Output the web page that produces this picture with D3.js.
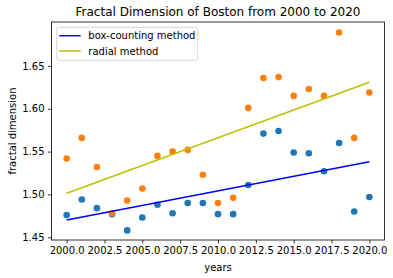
<!DOCTYPE html>
<html>
<head>
<meta charset="utf-8">
<script src="https://cdn.jsdelivr.net/npm/d3@7"></script>
<style>
  body { margin: 0; background: #fff; }
  svg { display: block; }
  text { font-family: "DejaVu Sans", sans-serif; fill: #000; }
</style>
</head>
<body>
<div id="chart"></div>
<script>
// values
const years = d3.range(2000, 2021)
const boxCounting = [1.476, 1.494, 1.484, 1.477, 1.458, 1.473, 1.488, 1.478, 1.490, 1.490,
                     1.477, 1.477, 1.511, 1.571, 1.574, 1.549, 1.548, 1.527, 1.560, 1.480, 1.497]
const radial = [1.542, 1.566, 1.532, 1.478, 1.493, 1.507, 1.545, 1.550, 1.552, 1.523,
                1.490, 1.496, 1.601, 1.636, 1.637, 1.615, 1.623, 1.615, 1.689, 1.566, 1.619]
// fitted lines, start and end values
const fitYears = [2000, 2020]
const boxFit = [1.4702, 1.5382]
const radialFit = [1.5014, 1.6309]
const xTicks = [2000, 2002.5, 2005, 2007.5, 2010, 2012.5, 2015, 2017.5, 2020]
const yTicks = [1.45, 1.50, 1.55, 1.60, 1.65]

const W = 393, H = 278
const margin = { top: 22, right: 8.5, bottom: 38, left: 51.5 }
const width = W - margin.left - margin.right
const height = H - margin.top - margin.bottom

const svg = d3.select("#chart").append("svg")
    .attr("width", W)
    .attr("height", H)

const g = svg.append("g")
    .attr("transform", "translate(" + margin.left + "," + margin.top + ")")

const x = d3.scaleLinear().domain([1999, 2021]).range([0, width])
const y = d3.scaleLinear().domain([1.4468, 1.7013]).range([height, 0])

// axes
const xAxis = g.append("g")
    .attr("transform", "translate(0," + height + ")")
    .call(d3.axisBottom(x).tickValues(xTicks).tickFormat(d3.format(".1f")).tickSizeOuter(0).tickSize(3.5).tickPadding(3.5))
const yAxis = g.append("g")
    .call(d3.axisLeft(y).tickValues(yTicks).tickFormat(d3.format(".2f")).tickSizeOuter(0).tickSize(3.5).tickPadding(3.5))

for (let a of [xAxis, yAxis]) {
    a.select(".domain").remove()
    a.selectAll("text").style("font-family", "DejaVu Sans").style("font-size", "10px").attr("fill", "#000")
    a.selectAll("line").attr("stroke", "#000").attr("stroke-width", 0.8)
}

// points
g.selectAll(".box")
    .data(years.map((yr, i) => [yr, boxCounting[i]]))
    .enter().append("circle")
    .attr("cx", d => x(d[0]))
    .attr("cy", d => y(d[1]))
    .attr("r", 3.3)
    .attr("fill", "#1f77b4")

g.selectAll(".rad")
    .data(years.map((yr, i) => [yr, radial[i]]))
    .enter().append("circle")
    .attr("cx", d => x(d[0]))
    .attr("cy", d => y(d[1]))
    .attr("r", 3.3)
    .attr("fill", "#ff7f0e")

const line = d3.line().x(d => x(d[0])).y(d => y(d[1]))

g.append("path")
    .attr("d", line(fitYears.map((yr, i) => [yr, boxFit[i]])))
    .attr("stroke", "#0000ff").attr("stroke-width", 1.5).attr("fill", "none")
g.append("path")
    .attr("d", line(fitYears.map((yr, i) => [yr, radialFit[i]])))
    .attr("stroke", "#bfbf00").attr("stroke-width", 1.5).attr("fill", "none")

// frame
g.append("rect")
    .attr("width", width).attr("height", height)
    .attr("fill", "none").attr("stroke", "#000").attr("stroke-width", 0.8)

// legend
const legend = g.append("g").attr("transform", "translate(5.2,5.3)")
legend.append("rect")
    .attr("width", 141).attr("height", 33).attr("rx", 2)
    .attr("fill", "#fff").attr("fill-opacity", 0.8)
    .attr("stroke", "#ccc").attr("stroke-width", 0.8)
const items = [["box-counting method", "#0000ff"], ["radial method", "#bfbf00"]]
items.forEach((it, i) => {
    const yy = 8.4 + i * 15.3
    legend.append("line")
        .attr("x1", 2.6).attr("x2", 24).attr("y1", yy).attr("y2", yy)
        .attr("stroke", it[1]).attr("stroke-width", 1.5)
    legend.append("text")
        .attr("x", 31.6).attr("y", yy + 3.6)
        .style("font-size", "10px")
        .text(it[0])
})

// labels
svg.append("text")
    .attr("x", margin.left + width / 2).attr("y", 16)
    .attr("text-anchor", "middle")
    .style("font-size", "12px")
    .text("Fractal Dimension of Boston from 2000 to 2020")

svg.append("text")
    .attr("x", margin.left + width / 2).attr("y", 271)
    .attr("text-anchor", "middle")
    .style("font-size", "10px")
    .text("years")

svg.append("text")
    .attr("transform", "translate(16," + (margin.top + height / 2) + ") rotate(-90)")
    .attr("text-anchor", "middle")
    .style("font-size", "10px")
    .text("fractal dimension")
</script>
</body>
</html>
